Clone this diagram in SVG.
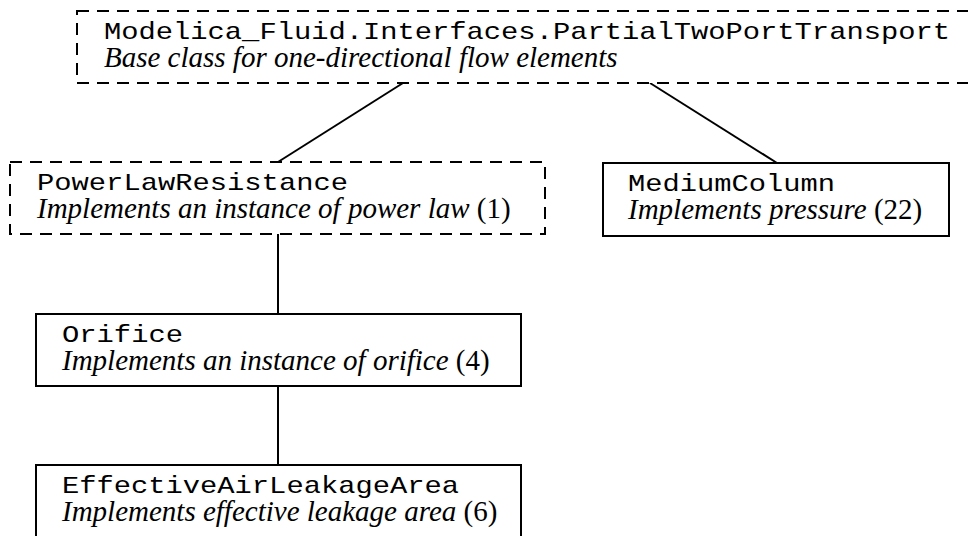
<svg xmlns="http://www.w3.org/2000/svg" width="968" height="536" viewBox="0 0 968 536">
<style>
.box{fill:#fff;stroke:#000;stroke-width:2}
.dash{stroke-dasharray:12 8}
.mono{font-family:"Liberation Mono","Courier New",monospace;font-size:24px;fill:#000}
.it{font-family:"Liberation Serif","Times New Roman",serif;font-size:29px;font-style:italic;fill:#000}
.rm{font-style:normal}
.edge{stroke:#000;stroke-width:2;fill:none}
</style>
<rect width="968" height="536" fill="#fff"/>
<g id="connectors">
<line class="edge" x1="403" y1="83" x2="278" y2="162"/>
<line class="edge" x1="650" y1="83" x2="777" y2="163"/>
<line class="edge" x1="278" y1="234" x2="278" y2="314"/>
<line class="edge" x1="278" y1="386" x2="278" y2="465"/>
</g>
<g id="PartialTwoPortTransport">
<rect class="box dash" x="77" y="11" width="940" height="72"/>
<text class="mono" x="104" y="39" textLength="846" lengthAdjust="spacingAndGlyphs">Modelica_Fluid.Interfaces.PartialTwoPortTransport</text>
<text class="it" x="104" y="67">Base class for one-directional flow elements</text>
</g>
<g id="PowerLawResistance">
<rect class="box dash" x="10" y="162" width="535" height="72"/>
<text class="mono" x="37" y="190" textLength="311" lengthAdjust="spacingAndGlyphs">PowerLawResistance</text>
<text class="it" x="37" y="218">Implements an instance of power law <tspan class="rm">(1)</tspan></text>
</g>
<g id="MediumColumn">
<rect class="box" x="603" y="163" width="346" height="73"/>
<text class="mono" x="628" y="191" textLength="207" lengthAdjust="spacingAndGlyphs">MediumColumn</text>
<text class="it" x="628" y="219">Implements pressure <tspan class="rm">(22)</tspan></text>
</g>
<g id="Orifice">
<rect class="box" x="36" y="314" width="485" height="72"/>
<text class="mono" x="62" y="342" textLength="121" lengthAdjust="spacingAndGlyphs">Orifice</text>
<text class="it" x="62" y="370">Implements an instance of orifice <tspan class="rm">(4)</tspan></text>
</g>
<g id="EffectiveAirLeakageArea">
<rect class="box" x="36" y="465" width="485" height="90"/>
<text class="mono" x="62" y="493" textLength="397" lengthAdjust="spacingAndGlyphs">EffectiveAirLeakageArea</text>
<text class="it" x="62" y="521">Implements effective leakage area <tspan class="rm">(6)</tspan></text>
</g>
</svg>
